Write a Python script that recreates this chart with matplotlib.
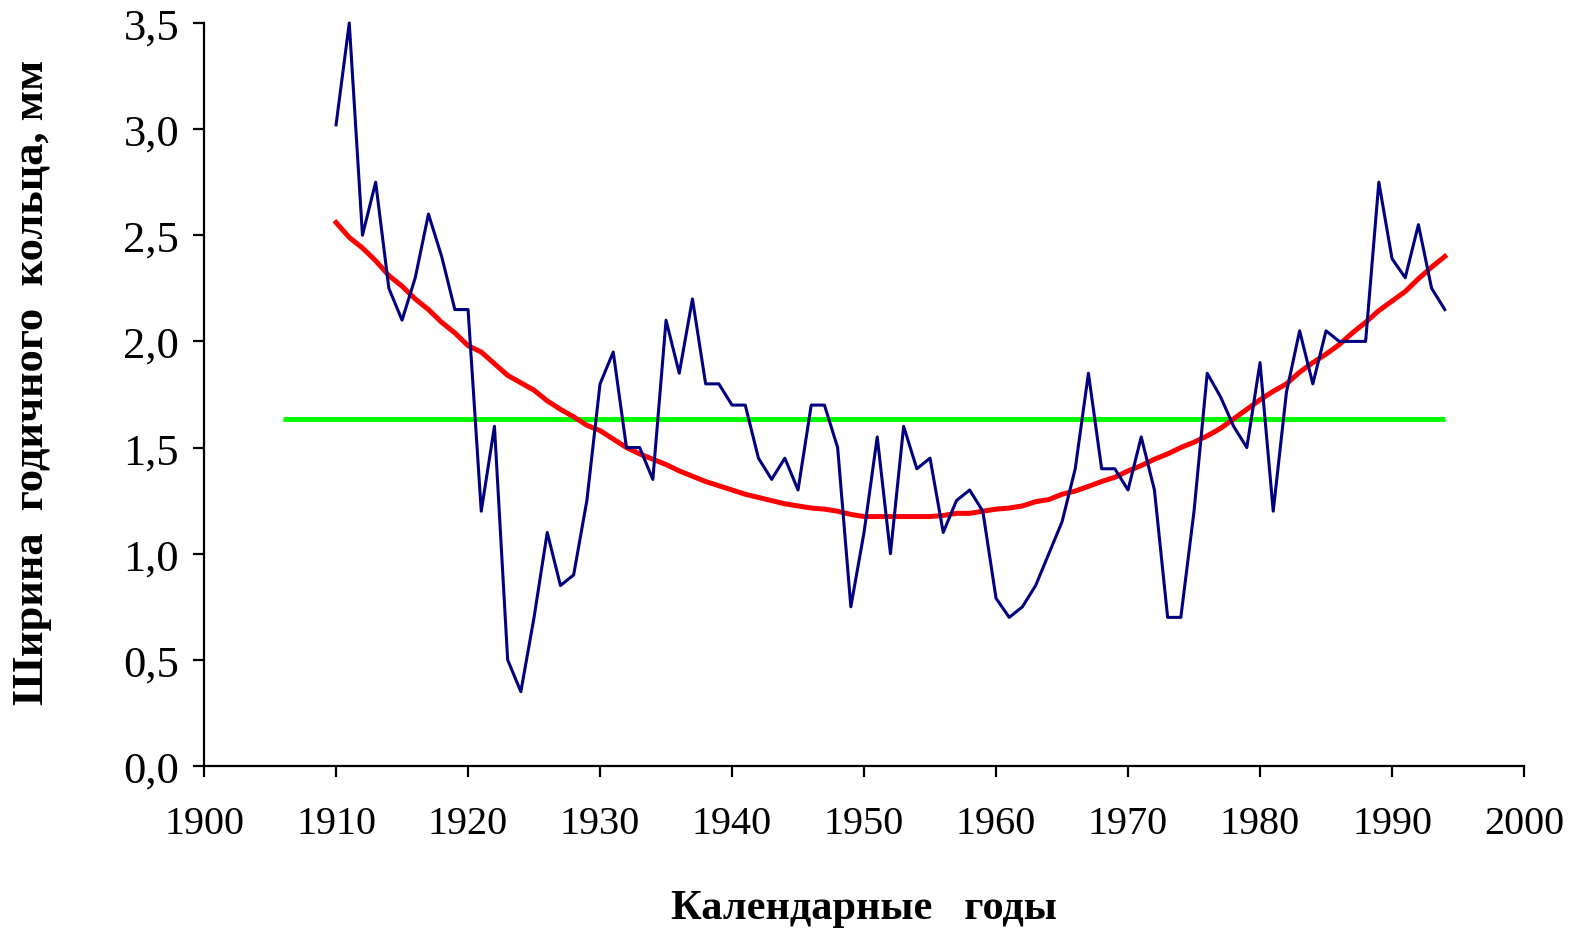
import matplotlib
matplotlib.use('Agg')
import matplotlib.pyplot as plt
from matplotlib.ticker import MultipleLocator, FuncFormatter

plt.rcParams['font.family'] = ['Liberation Serif', 'DejaVu Serif']

# годы и ширина годичного кольца, мм
years = list(range(1910, 1995))
ring_width = [3.02, 3.5, 2.5, 2.75, 2.25, 2.1, 2.3, 2.6, 2.4, 2.15,
              2.15, 1.2, 1.6, 0.5, 0.35, 0.7, 1.1, 0.85, 0.9, 1.25,
              1.8, 1.95, 1.5, 1.5, 1.35, 2.1, 1.85, 2.2, 1.8, 1.8,
              1.7, 1.7, 1.45, 1.35, 1.45, 1.3, 1.7, 1.7, 1.5, 0.75,
              1.1, 1.55, 1.0, 1.6, 1.4, 1.45, 1.1, 1.25, 1.3, 1.2,
              0.79, 0.7, 0.75, 0.85, 1.0, 1.15, 1.4, 1.85, 1.4, 1.4,
              1.3, 1.55, 1.3, 0.7, 0.7, 1.2, 1.85, 1.74, 1.6, 1.5,
              1.9, 1.2, 1.76, 2.05, 1.8, 2.05, 2.0, 2.0, 2.0, 2.75,
              2.39, 2.3, 2.55, 2.25, 2.15]

# тренд
trend = [2.56, 2.49, 2.44, 2.38, 2.31, 2.26, 2.20, 2.15, 2.09, 2.04,
         1.98, 1.95, 1.895, 1.84, 1.805, 1.77, 1.72, 1.68, 1.645, 1.605,
         1.58, 1.54, 1.50, 1.47, 1.445, 1.42, 1.39, 1.365, 1.34, 1.32,
         1.30, 1.28, 1.265, 1.25, 1.235, 1.225, 1.215, 1.21, 1.20, 1.185,
         1.175, 1.175, 1.175, 1.175, 1.175, 1.175, 1.18, 1.19, 1.19, 1.20,
         1.21, 1.215, 1.225, 1.245, 1.255, 1.28, 1.295, 1.317, 1.34, 1.36,
         1.39, 1.415, 1.445, 1.47, 1.50, 1.525, 1.555, 1.59, 1.635, 1.68,
         1.725, 1.765, 1.80, 1.855, 1.90, 1.94, 1.985, 2.04, 2.09, 2.145,
         2.19, 2.235, 2.295, 2.35, 2.40]

# среднее
mean_years = [1906, 1994]
mean_value = [1.635, 1.635]

fig = plt.figure(figsize=(15.77, 9.29), dpi=100)
ax = fig.add_axes([0.1294, 0.1744, 0.8370, 0.7998])

ax.plot(mean_years, mean_value, color='#00FF00', lw=3.6, solid_capstyle='butt', zorder=2)
ax.plot(years, trend, color='#FF0000', lw=3.6, zorder=3, clip_on=False)
ax.plot(years, ring_width, color='#000080', lw=2.2, zorder=4, clip_on=False)

ax.set_xlim(1900, 2000)
ax.set_ylim(0, 3.5)
ax.xaxis.set_major_locator(MultipleLocator(10))
ax.yaxis.set_major_locator(MultipleLocator(0.5))
ax.yaxis.set_major_formatter(FuncFormatter(lambda v, p: f'{v:.1f}'.replace('.', ',')))

for s in ['top', 'right']:
    ax.spines[s].set_visible(False)
for s in ['left', 'bottom']:
    ax.spines[s].set_linewidth(1.6)

ax.tick_params(direction='out', length=8, width=1.6, colors='black')
ax.tick_params(axis='x', pad=20, labelsize=29)
ax.tick_params(axis='y', pad=10, labelsize=32)

fig.text(0.548, 0.021, 'Календарные   годы', ha='center', va='center',
         fontsize=30.5, fontweight='bold')
fig.text(0.0204, 0.588, 'Ширина  годичного  кольца, мм', ha='center', va='center',
         rotation=90, fontsize=32, fontweight='bold')

fig.savefig('out.png', dpi=100)
